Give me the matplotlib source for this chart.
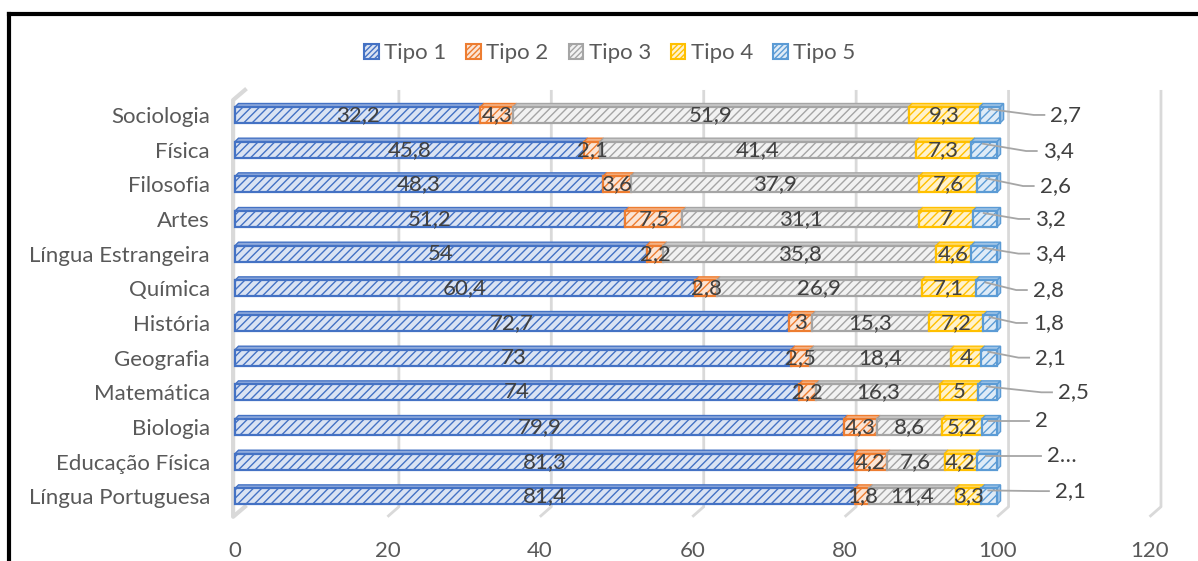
import matplotlib.pyplot as plt
from matplotlib.patches import Polygon, Patch
from matplotlib.lines import Line2D

plt.rcParams['font.family'] = ['Lato', 'DejaVu Sans']

# rows from top to bottom
disciplinas = ['Sociologia', 'Física', 'Filosofia', 'Artes', 'Língua Estrangeira',
               'Química', 'História', 'Geografia', 'Matemática', 'Biologia',
               'Educação Física', 'Língua Portuguesa']
tipo1 = [32.2, 45.8, 48.3, 51.2, 54, 60.4, 72.7, 73, 74, 79.9, 81.3, 81.4]
tipo2 = [4.3, 2.1, 3.6, 7.5, 2.2, 2.8, 3, 2.5, 2.2, 4.3, 4.2, 1.8]
tipo3 = [51.9, 41.4, 37.9, 31.1, 35.8, 26.9, 15.3, 18.4, 16.3, 8.6, 7.6, 11.4]
tipo4 = [9.3, 7.3, 7.6, 7, 4.6, 7.1, 7.2, 4, 5, 5.2, 4.2, 3.3]
tipo5 = [2.7, 3.4, 2.6, 3.2, 3.4, 2.8, 1.8, 2.1, 2.5, 2, 2.7, 2.1]
tipo5_text = ['2,7', '3,4', '2,6', '3,2', '3,4', '2,8', '1,8', '2,1', '2,5', '2', '2…', '2,1']
series_names = ['Tipo 1', 'Tipo 2', 'Tipo 3', 'Tipo 4', 'Tipo 5']
x_ticks = [0, 20, 40, 60, 80, 100, 120]

# where the Tipo 5 callouts sit (left edge, vertical shift)
callout_x = [107.0, 106.0, 105.6, 105.0, 105.0, 104.7, 104.7, 105.0, 108.0, 105.0, 106.6, 107.6]
callout_dy = [0, 0.04, 0.05, 0, 0, 0.05, 0, 0, 0, -0.17, -0.17, -0.15]

edge_cols = ['#4472C4', '#ED7D31', '#A5A5A5', '#FFC000', '#5B9BD5']
face_cols = ['#DAE3F3', '#FBE5D6', '#F2F2F2', '#FFF2CC', '#DEEBF7']
top_cols = ['#8FAADC', '#F4B183', '#C9C9C9', '#FFD966', '#9DC3E6']
hatches = ['////', '////', '////', '////', '////']

plt.rcParams['hatch.linewidth'] = 1.0
FS = 16

fig = plt.figure(figsize=(11.98, 5.61), dpi=100)
# x: 0 -> 235 px, 7.62 px per unit ; y: row 0 at 115 px, 34.68 px per row
ax = fig.add_axes([0.1771, 0.0535, 0.8079, 0.8034])
ax.set_xlim(-3, 124)
ax.set_ylim(12.0, -1.0)
for s in ax.spines.values():
    s.set_visible(False)

grid_c = '#D9D9D9'
back = 1.5
y_top_back, y_bot_back, y_bot_front = -0.72, 11.3, 11.59
for v in x_ticks[1:]:
    ax.plot([v + back, v + back, v], [y_top_back, y_bot_back, y_bot_front],
            color=grid_c, lw=2, zorder=0, solid_capstyle='butt')
# side wall at 0
ax.plot([1.3, -0.25, -0.25, 1.3], [y_top_back, -0.43, y_bot_front, y_bot_back],
        color=grid_c, lw=3, zorder=0)

h = 0.46
dx, dy = 0.45, 0.1
series = [tipo1, tipo2, tipo3, tipo4, tipo5]

def fmt(v):
    return f'{v:g}'.replace('.', ',')

for i, name in enumerate(disciplinas):
    left = 0.0
    for k, vals in enumerate(series):
        w = vals[i]
        ax.barh(i, w, left=left, height=h, color=face_cols[k], edgecolor=edge_cols[k],
                hatch=hatches[k], linewidth=1.6, zorder=2)
        yt = i - h / 2
        ax.add_patch(Polygon([(left, yt), (left + w, yt), (left + w + dx, yt - dy), (left + dx, yt - dy)],
                             closed=True, facecolor=top_cols[k], edgecolor=edge_cols[k],
                             linewidth=1.0, zorder=1.9))
        if k == 4:
            yb = i + h / 2
            ax.add_patch(Polygon([(left + w, yt), (left + w + dx, yt - dy), (left + w + dx, yb - dy), (left + w, yb)],
                                 closed=True, facecolor=top_cols[k], edgecolor=edge_cols[k],
                                 linewidth=1.0, zorder=1.9))
            lx = callout_x[i]
            ly = i + callout_dy[i]
            ax.plot([left + w * 0.45, lx - 2.2, lx - 0.8], [i - 0.17, ly, ly],
                    color='#A6A6A6', lw=1.3, zorder=3)
            ax.text(lx, ly, tipo5_text[i], ha='left', va='center', fontsize=FS,
                    color='#404040', zorder=4)
        else:
            ax.text(left + w / 2, i, fmt(w), ha='center', va='center', fontsize=FS,
                    color='#404040', zorder=4)
        left += w

ax.set_yticks(range(len(disciplinas)))
ax.set_yticklabels(disciplinas, fontsize=FS, color='#595959')
ax.set_xticks(x_ticks)
ax.set_xticklabels([str(t) for t in x_ticks], fontsize=FS, color='#595959')
ax.tick_params(axis='both', length=0)
ax.tick_params(axis='y', pad=1.5)
ax.tick_params(axis='x', pad=7)

handles = [Patch(facecolor=face_cols[k], edgecolor=edge_cols[k], hatch='//////', linewidth=1.5)
           for k in range(5)]
leg = fig.legend(handles, series_names, loc='center', bbox_to_anchor=(0.509, 0.905), ncol=5,
                 frameon=False, fontsize=FS, handlelength=0.65, handleheight=0.65,
                 handletextpad=0.25, columnspacing=0.9)
for t in leg.get_texts():
    t.set_color('#595959')

# black frame along the top and left edges
fig.add_artist(Line2D([8.5 / 1198, 8.5 / 1198], [0, 1 - 14 / 561], color='black', lw=3,
                      transform=fig.transFigure, solid_capstyle='projecting'))
fig.add_artist(Line2D([8.5 / 1198, 1], [1 - 14 / 561, 1 - 14 / 561], color='black', lw=3,
                      transform=fig.transFigure, solid_capstyle='projecting'))

fig.savefig('out.png', dpi=100)
